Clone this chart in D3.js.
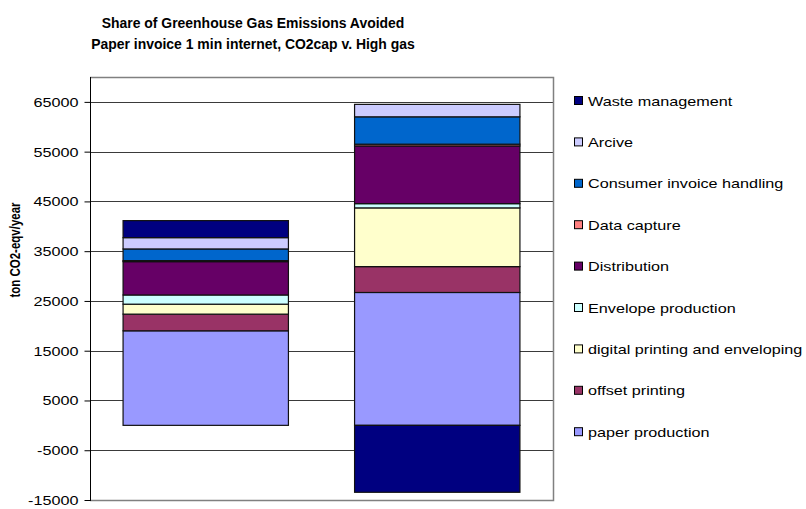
<!DOCTYPE html>
<html>
<head>
<meta charset="utf-8">
<script src="https://cdn.jsdelivr.net/npm/d3@7"></script>
<style>
  html, body { margin: 0; padding: 0; background: #fff; }
  svg { display: block; font-family: Arial, "Liberation Sans", sans-serif; }
</style>
</head>
<body>
<svg id="chart" width="806" height="509"></svg>
<script>
// Scenarios (the category axis carries no labels)
const scenarios = ["Paper invoice", "Internet invoice"];

// Emission sources, bottom of the stack first
const sources = [
  "paper production",
  "offset printing",
  "digital printing and enveloping",
  "Envelope production",
  "Distribution",
  "Data capture",
  "Consumer invoice handling",
  "Arcive",
  "Waste management"
];

// ton CO2-eqv/year per source, one array per source: [scenario 1, scenario 2]
const paperProduction   = [19000, 26700];
const offsetPrinting    = [3350, 5200];
const digitalPrinting   = [2000, 11800];
const envelopeProd      = [1850, 850];
const distribution      = [6700, 11600];
const dataCapture       = [200, 350];
const consumerHandling  = [2350, 5500];
const archive           = [2270, 2500];
const wasteManagement   = [3420, -13450];

const seriesValues = [
  paperProduction, offsetPrinting, digitalPrinting, envelopeProd,
  distribution, dataCapture, consumerHandling, archive, wasteManagement
];

const sourceColors = [
  "#9999FF", "#993366", "#FFFFCC", "#CCFFFF", "#660066",
  "#FF8080", "#0066CC", "#CCCCFF", "#000080"
];

// Value axis
const yTicks = [-15000, -5000, 5000, 15000, 25000, 35000, 45000, 55000, 65000];
const yMin = -15000, yMax = 70000;

const titleLines = [
  "Share of Greenhouse Gas Emissions Avoided",
  "Paper invoice 1 min internet, CO2cap v. High gas"
];
const yTitle = "ton CO2-eqv/year";

// ---- layout ----
const svg = d3.select("#chart");
const plot = { left: 90, right: 553, top: 77, bottom: 500 };
const textStretch = 1.35;   // wide glyph proportions for axis and legend text

const rows = scenarios.map((s, i) => {
  const r = { scenario: s };
  sources.forEach((src, k) => { r[src] = seriesValues[k][i]; });
  return r;
});

const stack = d3.stack()
  .keys(sources)
  .offset(d3.stackOffsetDiverging);
const layers = stack(rows);

const x = d3.scaleBand()
  .domain(scenarios)
  .range([plot.left, plot.right])
  .paddingInner(0.2857)
  .paddingOuter(0.14285);

const y = d3.scaleLinear()
  .domain([yMin, yMax])
  .range([plot.bottom, plot.top]);

const color = d3.scaleOrdinal().domain(sources).range(sourceColors);

// helper: horizontally stretched text anchored at (px, py)
function stretchedText(g, px, py, str, opts) {
  const s = opts.stretch === undefined ? textStretch : opts.stretch;
  return g.append("text")
    .attr("transform", `translate(${px},${py}) ${opts.rotate ? "rotate(-90)" : ""} scale(${opts.rotate ? 1 : s},${opts.rotate ? s : 1})`)
    .attr("text-anchor", opts.anchor || "start")
    .attr("font-size", opts.size)
    .attr("font-weight", opts.weight || "normal")
    .attr("fill", "#000")
    .text(str);
}

// gridlines
svg.append("g")
  .selectAll("line")
  .data(yTicks)
  .join("line")
  .attr("x1", plot.left).attr("x2", plot.right)
  .attr("y1", d => Math.round(y(d)) + 0.5)
  .attr("y2", d => Math.round(y(d)) + 0.5)
  .attr("stroke", "#3a3a3a")
  .attr("stroke-width", 1);

// plot border (top, right, bottom)
svg.append("path")
  .attr("d", `M${plot.left},${plot.top + 0.5}H${plot.right + 0.5}V${plot.bottom + 0.5}H${plot.left}`)
  .attr("fill", "none")
  .attr("stroke", "#808080")
  .attr("stroke-width", 1.5);

// bars
svg.append("g")
  .selectAll("g")
  .data(layers)
  .join("g")
  .attr("fill", d => color(d.key))
  .selectAll("rect")
  .data(d => d)
  .join("rect")
  .attr("x", d => x(d.data.scenario))
  .attr("width", x.bandwidth())
  .attr("y", d => y(Math.max(d[0], d[1])))
  .attr("height", d => Math.abs(y(d[0]) - y(d[1])))
  .attr("stroke", "#111")
  .attr("stroke-width", 1.2);

// value axis
const fmt = d => String(d);
const yAxis = d3.axisLeft(y)
  .tickValues(yTicks)
  .tickSize(6)
  .tickFormat(fmt);
const axisG = svg.append("g")
  .attr("transform", `translate(${plot.left + 0.5},0)`)
  .call(yAxis);
axisG.select(".domain")
  .attr("d", `M0,${plot.top}V${plot.bottom + 1}`)
  .attr("stroke", "#000");
axisG.selectAll(".tick line").attr("stroke", "#000");
axisG.selectAll(".tick text").remove();
axisG.selectAll(".tick").each(function (d) {
  stretchedText(d3.select(this), -12, 4.5, fmt(d), { size: 12, anchor: "end" });
});

// value axis title
stretchedText(svg, 20, 250, yTitle, { size: 11.5, weight: "bold", anchor: "middle", rotate: true, stretch: 1.2 });

// chart title
titleLines.forEach((line, i) => {
  stretchedText(svg, 253, 28 + i * 20.5, line, { size: 15.5, weight: "bold", anchor: "middle", stretch: 0.9 });
});

// legend, top entry = top of stack
const legendOrder = sources.slice().reverse();
const legend = svg.append("g")
  .selectAll("g")
  .data(legendOrder)
  .join("g")
  .attr("transform", (d, i) => `translate(574,${101 + i * 41.4})`);
legend.append("rect")
  .attr("x", 0.5).attr("y", -4.5)
  .attr("width", 8).attr("height", 8)
  .attr("fill", d => color(d))
  .attr("stroke", "#000")
  .attr("stroke-width", 1);
legend.each(function (d) {
  stretchedText(d3.select(this), 14, 4.5, d, { size: 12 });
});
</script>
</body>
</html>
